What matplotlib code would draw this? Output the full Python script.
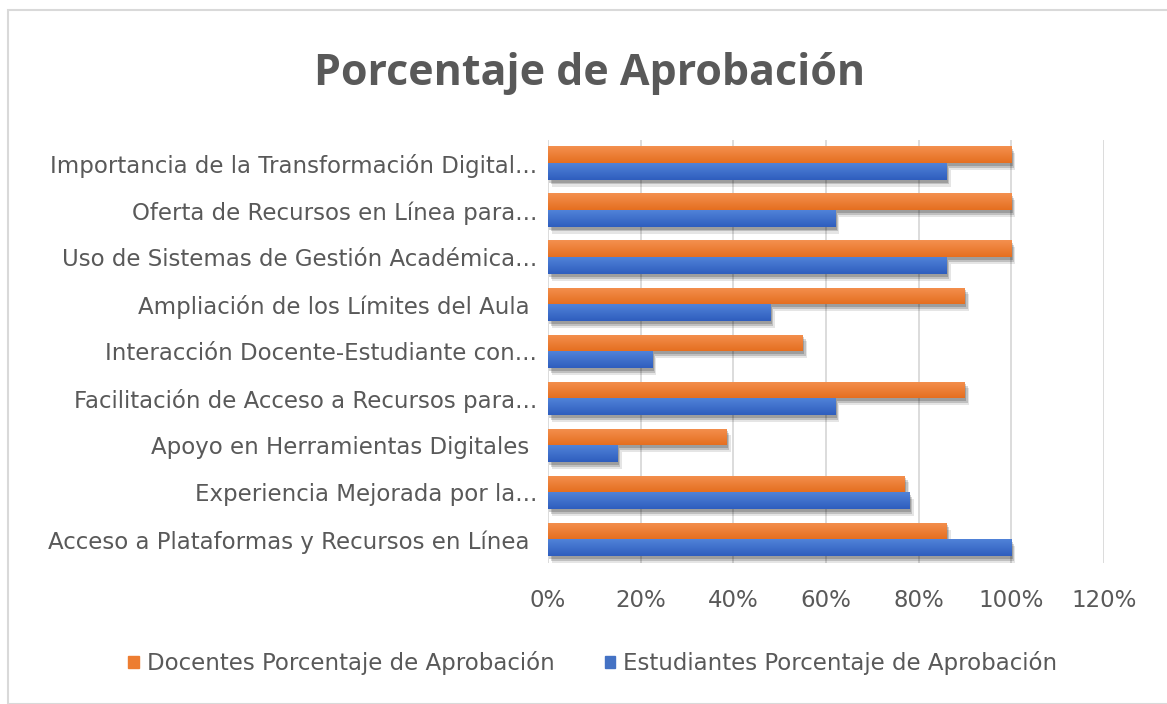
import numpy as np
import matplotlib
matplotlib.use('Agg')
import matplotlib.pyplot as plt
import matplotlib.patheffects as pe
from matplotlib.patches import Rectangle, Patch
from matplotlib.colors import LinearSegmentedColormap
from matplotlib.ticker import FuncFormatter

plt.rcParams['font.family'] = ['DejaVu Sans']

# categorias de abajo hacia arriba
categorias = [
    'Acceso a Plataformas y Recursos en Línea ',
    'Experiencia Mejorada por la...',
    'Apoyo en Herramientas Digitales ',
    'Facilitación de Acceso a Recursos para...',
    'Interacción Docente-Estudiante con...',
    'Ampliación de los Límites del Aula ',
    'Uso de Sistemas de Gestión Académica...',
    'Oferta de Recursos en Línea para...',
    'Importancia de la Transformación Digital...',
]
docentes = [0.86, 0.77, 0.385, 0.90, 0.55, 0.90, 1.00, 1.00, 1.00]
estudiantes = [1.00, 0.78, 0.15, 0.62, 0.225, 0.48, 0.86, 0.62, 0.86]

gris = '#595959'
naranja = '#ED7D31'
azul = '#4472C4'
grad_naranja = LinearSegmentedColormap.from_list('gn', ['#E56F20', '#F4904F'])
grad_azul = LinearSegmentedColormap.from_list('ga', ['#2F5EBE', '#5082D8'])

fig = plt.figure(figsize=(11.67, 7.04), dpi=100)
ax = fig.add_axes([0.4696, 0.2003, 0.4764, 0.601])

# marco del grafico
fig.patches.append(Rectangle((0.007, 0.0), 0.995, 0.986, transform=fig.transFigure,
                             fill=False, edgecolor='#D9D9D9', linewidth=1.5))

y = np.arange(len(categorias))
h = 0.36
sombra = [pe.SimplePatchShadow(offset=(1, -2), shadow_rgbFace='#000000', alpha=0.18),
          pe.SimplePatchShadow(offset=(2, -3), shadow_rgbFace='#000000', alpha=0.16),
          pe.SimplePatchShadow(offset=(3, -5), shadow_rgbFace='#000000', alpha=0.10),
          pe.Normal()]
b1 = ax.barh(y + h / 2, docentes, height=h, color=naranja, zorder=3)
b2 = ax.barh(y - h / 2, estudiantes, height=h, color=azul, zorder=3)
grad = np.linspace(0, 1, 32).reshape(-1, 1)
for barras, cm in ((b1, grad_naranja), (b2, grad_azul)):
    for b in barras:
        b.set_path_effects(sombra)
        x0, y0 = b.get_x(), b.get_y()
        im = ax.imshow(grad, cmap=cm, aspect='auto', origin='lower', zorder=3.5,
                       extent=(x0, x0 + b.get_width(), y0, y0 + b.get_height()))
        im.set_clip_path(b)

ax.set_xlim(0, 1.2)
ax.set_ylim(-0.5, len(categorias) - 0.5)
ax.set_xticks(np.arange(0, 1.21, 0.2))
ax.xaxis.set_major_formatter(FuncFormatter(lambda v, p: '%d%%' % round(v * 100)))
ax.set_yticks(y)
ax.set_yticklabels(categorias)
ax.grid(axis='x', color='#D9D9D9', linewidth=1.3, zorder=0)
for s in ax.spines.values():
    s.set_visible(False)
ax.tick_params(axis='both', length=0, colors=gris, labelsize=16.5)
ax.tick_params(axis='y', pad=8)
ax.tick_params(axis='x', pad=19)

fig.text(0.505, 0.895, 'Porcentaje de Aprobación', ha='center', va='center',
         fontsize=31, fontweight='bold', color=gris, family='Open Sans')

handles = [Patch(color=naranja, label='Docentes Porcentaje de Aprobación'),
           Patch(color=azul, label='Estudiantes Porcentaje de Aprobación')]
leg = fig.legend(handles=handles, loc='center', bbox_to_anchor=(0.508, 0.058), ncol=2,
                 frameon=False, fontsize=16.5, handlelength=0.45, handleheight=0.45,
                 handletextpad=0.35, columnspacing=2.2)
for t in leg.get_texts():
    t.set_color(gris)

fig.savefig('out.png', dpi=100)
